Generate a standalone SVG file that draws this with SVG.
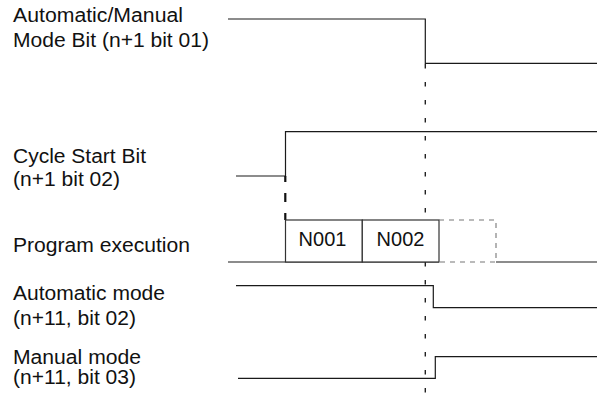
<svg xmlns="http://www.w3.org/2000/svg" width="597" height="393" viewBox="0 0 597 393">
<style>
.lbl{font-family:"Liberation Sans",Arial,sans-serif;font-size:20px;fill:#111}
.sig{fill:none;stroke:#1a1a1a;stroke-width:1.2}
.dash{fill:none;stroke:#222;stroke-width:1.4;stroke-dasharray:4.5 13.5}
.dbox{fill:none;stroke:#777;stroke-width:1.1;stroke-dasharray:5 5}
.box{fill:#fff;stroke:#333;stroke-width:1.2}
</style>
<rect width="597" height="393" fill="#fff"/>
<g id="labels">
<text class="lbl" x="13" y="21.5" textLength="170" lengthAdjust="spacingAndGlyphs">Automatic/Manual</text>
<text class="lbl" x="13" y="46.5" textLength="196" lengthAdjust="spacingAndGlyphs">Mode Bit (n+1 bit 01)</text>
<text class="lbl" x="13" y="163" textLength="133" lengthAdjust="spacingAndGlyphs">Cycle Start Bit</text>
<text class="lbl" x="13" y="186" textLength="107" lengthAdjust="spacingAndGlyphs">(n+1 bit 02)</text>
<text class="lbl" x="13" y="252" textLength="177" lengthAdjust="spacingAndGlyphs">Program execution</text>
<text class="lbl" x="13" y="300" textLength="152" lengthAdjust="spacingAndGlyphs">Automatic mode</text>
<text class="lbl" x="13" y="325" textLength="123" lengthAdjust="spacingAndGlyphs">(n+11, bit 02)</text>
<text class="lbl" x="13" y="364" textLength="128" lengthAdjust="spacingAndGlyphs">Manual mode</text>
<text class="lbl" x="13" y="384" textLength="123" lengthAdjust="spacingAndGlyphs">(n+11, bit 03)</text>
</g>
<g id="connectors">
<polyline id="auto-manual-bit" class="sig" points="228,19 425.3,19 425.3,63.3 597,63.3"/>
<line id="sync-line" class="dash" x1="425.3" y1="64" x2="425.3" y2="393"/>
<polyline id="cycle-start-bit" class="sig" points="236,176 285.5,176 285.5,131.7 597,131.7"/>
<line id="cycle-start-dash" x1="285.3" y1="176" x2="285.3" y2="220" stroke="#111" stroke-width="2.2" stroke-dasharray="6 11 9 11 8"/>
<line id="prog-base-a" class="sig" x1="228" y1="262" x2="439" y2="262" stroke="#444"/>
<line id="prog-base-b" class="sig" x1="496" y1="262" x2="597" y2="262" stroke="#444"/>
<polyline id="auto-mode" class="sig" points="236,285.7 433.3,285.7 433.3,307.7 597,307.7" stroke="#333"/>
<polyline id="manual-mode" class="sig" points="238,378.3 435.3,378.3 435.3,356.7 597,356.7" stroke="#333"/>
</g>
<g id="n001">
<rect class="box" x="285.5" y="220" width="76.8" height="42"/>
<text class="lbl" x="322.5" y="246" text-anchor="middle">N001</text>
</g>
<g id="n002">
<rect class="box" x="362.3" y="220" width="76.7" height="42"/>
<text class="lbl" x="400.5" y="246" text-anchor="middle">N002</text>
</g>
<g id="next">
<path class="dbox" d="M439,220 H496 V262 H439"/>
</g>
</svg>
